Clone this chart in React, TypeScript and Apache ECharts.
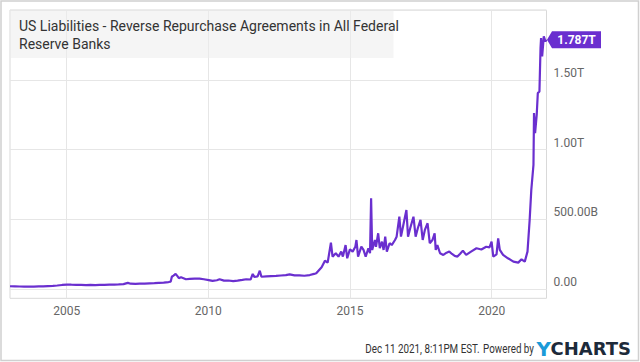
import React, { useEffect, useRef } from "react";
import * as echarts from "echarts";

const titleText = "US Liabilities - Reverse Repurchase Agreements in All Federal\nReserve Banks";
const footerStamp = "Dec 11 2021, 8:11PM EST.";
const footerPowered = "Powered by";
const yearTicks = ["2005-01-01", "2010-01-01", "2015-01-01", "2020-01-01"];
const xMin = "2003-01-01";
const xMax = "2021-12-08";
const yMax = 2000; // billions
const yStep = 500;

const dates = [
  "2003-01-01","2003-03-05","2003-05-07","2003-07-02","2003-09-03","2003-11-05",
  "2004-01-07","2004-03-03","2004-05-05","2004-07-07","2004-09-01","2004-11-03",
  "2005-01-05","2005-03-02","2005-05-04","2005-07-06","2005-09-07","2005-11-02",
  "2006-01-04","2006-03-01","2006-05-03","2006-07-05","2006-09-06","2006-11-01",
  "2007-01-03","2007-02-28","2007-04-04","2007-06-06","2007-08-01","2007-10-03","2007-12-05",
  "2008-02-06","2008-04-02","2008-06-04","2008-08-06","2008-09-03","2008-09-17","2008-10-08","2008-11-05","2008-11-26","2008-12-17",
  "2009-01-14","2009-03-18","2009-05-06","2009-07-08","2009-09-09","2009-11-04",
  "2010-01-06","2010-02-24","2010-04-21","2010-05-26","2010-07-21","2010-09-15","2010-11-17",
  "2011-01-12","2011-03-16","2011-05-04","2011-06-29","2011-07-27","2011-08-17","2011-09-28","2011-10-26","2011-11-16",
  "2012-01-18","2012-03-21","2012-05-23","2012-07-25","2012-09-26","2012-11-14",
  "2013-01-16","2013-03-20","2013-05-22","2013-07-31","2013-09-25","2013-10-23","2013-12-31",
  "2014-02-12","2014-03-19","2014-04-30","2014-05-21","2014-07-02","2014-08-06","2014-09-10","2014-10-01","2014-11-05","2014-11-26","2014-12-31",
  "2015-02-04","2015-03-11","2015-03-25","2015-04-15","2015-05-27","2015-06-24","2015-07-22","2015-08-26","2015-09-16","2015-09-30","2015-10-14","2015-11-18","2015-12-02","2015-12-30",
  "2016-01-20","2016-02-17","2016-03-09","2016-03-30","2016-04-20","2016-05-25","2016-06-22","2016-08-03","2016-08-24","2016-09-28","2016-10-19","2016-11-23","2016-12-28",
  "2017-01-18","2017-02-15","2017-03-29","2017-04-26","2017-05-24","2017-06-28","2017-07-26","2017-08-23","2017-09-27","2017-10-25","2017-11-29","2017-12-27",
  "2018-01-10","2018-01-31","2018-03-07","2018-04-18","2018-05-30","2018-07-04","2018-08-08","2018-09-12","2018-10-17","2018-11-21","2018-12-26",
  "2019-02-06","2019-04-10","2019-06-19","2019-08-21","2019-10-23","2019-12-04","2019-12-31",
  "2020-01-22","2020-03-04","2020-03-25","2020-04-15","2020-05-27","2020-07-29","2020-10-07","2020-12-09",
  "2021-01-20","2021-03-03","2021-04-07","2021-05-05","2021-05-26","2021-06-23","2021-06-30","2021-07-14","2021-08-04","2021-08-18","2021-09-08","2021-09-22","2021-09-29","2021-10-13","2021-11-03","2021-11-24","2021-12-08"
];

const valuesB = [
  22,21,20,19,20,19,
  21,21,23,24,27,31,
  34,33,32,31,30,31,
  30,31,32,33,34,35,
  37,46,40,39,40,41,43,
  44,46,48,52,55,90,98,110,96,80,
  86,72,74,76,77,72,
  66,60,65,72,62,63,59,
  62,67,72,70,110,88,92,133,90,
  93,95,96,99,101,107,
  100,100,97,102,110,115,158,
  205,191,334,234,258,234,270,234,317,222,287,
  270,305,353,234,305,282,234,294,258,652,282,353,305,401,
  294,341,282,377,270,330,317,353,377,520,377,473,568,
  377,437,520,377,437,497,353,425,473,330,353,401,
  282,317,258,246,262,270,253,239,234,255,277,
  246,270,294,285,305,300,341,
  234,250,365,282,246,222,198,191,
  215,198,270,497,712,891,1262,1118,1250,1405,1416,1727,1799,1667,1811,1775,1787
];

const lineColor = "#6a2fcf";
const gridColor = "#e6e6e6";
const labelColor = "#666666";
const fontFamily = "Roboto, 'Noto Sans', sans-serif";

function fmtY(v: number): string {
  if (v === 0) return "0.00";
  if (v >= 1000) return (v / 1000).toFixed(2) + "T";
  return v.toFixed(2) + "B";
}

const ts = (s: string) => +echarts.time.parse(s);

export default function App() {
  const ref = useRef<HTMLDivElement>(null);
  useEffect(() => {
    if (!ref.current) return;
    const chart = echarts.init(ref.current, undefined, { renderer: "svg" });
    const data = dates.map((d, i) => [ts(d), valuesB[i]]);
    const last = data[data.length - 1];
    const tickValues = yearTicks.map(ts);
    const xAxisBase = {
      type: "value", min: ts(xMin), max: ts(xMax), scale: true,
      axisLine: { show: false },
      axisTick: { show: false, customValues: tickValues },
      splitLine: { show: true, lineStyle: { color: gridColor, width: 1 } },
    };
    const option: any = {
      animation: false,
      backgroundColor: "#ffffff",
      textStyle: { fontFamily },
      grid: [
        { left: 10, right: 93.5, top: 10, bottom: 72.7, show: false },
        { left: 10, right: 93.5, top: 10, bottom: 63.7, show: true, borderColor: "#d9d9d9", borderWidth: 1, backgroundColor: "transparent" },
      ],
      xAxis: [
        { ...xAxisBase, gridIndex: 0, axisLabel: { show: false, customValues: tickValues } },
        {
          ...xAxisBase, gridIndex: 1,
          axisLabel: {
            customValues: tickValues,
            formatter: (v: number) => String(new Date(v).getFullYear()),
            color: labelColor, fontSize: 12, margin: 7, fontFamily,
          },
        },
      ],
      yAxis: [
        {
          gridIndex: 0, type: "value", position: "right", min: 0, max: yMax, interval: yStep,
          axisLine: { show: false }, axisTick: { show: false },
          axisLabel: {
            formatter: fmtY, color: labelColor, fontSize: 12, margin: 7,
            verticalAlign: "bottom", showMaxLabel: false, fontFamily, padding: [0, 0, 1, 0],
          },
          splitLine: { show: true, lineStyle: { color: gridColor, width: 1 } },
        },
        { gridIndex: 1, type: "value", show: false, splitLine: { show: false } },
      ],
      graphic: [
        {
          type: "rect", z: -1, silent: true,
          shape: { x: 1, y: 1, width: 637.5, height: 359.5 },
          style: { fill: "none", stroke: "#d0d0d0", lineWidth: 1.5 },
        },
        {
          type: "rect", silent: true, z: 5,
          shape: { x: 10.5, y: 10.5, width: 383, height: 47.5 },
          style: { fill: "rgba(236,236,236,0.55)" },
        },
        {
          type: "text", silent: true, z: 6, x: 19, y: 17,
          style: { text: titleText, fill: "#333333", fontSize: 14, lineHeight: 18, fontFamily },
        },
        {
          type: "text", silent: true, z: 6, x: 479.5, y: 349.5, scaleX: 0.82,
          style: { text: footerStamp, fill: "#333333", fontSize: 12, fontFamily, align: "right", verticalAlign: "middle" },
        },
        {
          type: "text", silent: true, z: 6, x: 534, y: 349.5, scaleX: 0.82,
          style: { text: footerPowered, fill: "#333333", fontSize: 12, fontFamily, align: "right", verticalAlign: "middle" },
        },
        {
          type: "text", silent: true, z: 6, x: 536.5, y: 348.5,
          style: { text: "Y", fill: "#1b9ad8", fontSize: 20, fontWeight: "bold", fontFamily: "'DejaVu Sans', sans-serif", align: "left", verticalAlign: "middle" },
        },
        {
          type: "text", silent: true, z: 6, x: 631, y: 348.5,
          style: { text: "CHARTS", fill: "#1d2a3a", fontSize: 18, fontWeight: "bold", fontFamily: "'DejaVu Sans', sans-serif", align: "right", verticalAlign: "middle" },
        },
      ],
      series: [
        {
          type: "line", xAxisIndex: 0, yAxisIndex: 0, data,
          showSymbol: false, symbol: "none",
          lineStyle: { color: lineColor, width: 2.2 },
          itemStyle: { color: lineColor },
          markPoint: {
            silent: true,
            symbol: "path://M0,8.5L5,0L54,0L54,17L5,17Z",
            symbolSize: [54, 17],
            symbolKeepAspect: false,
            symbolOffset: [27.5, 0],
            itemStyle: { color: lineColor },
            label: {
              show: true, color: "#ffffff", fontWeight: "bold", fontSize: 12, fontFamily,
              offset: [2.5, 0],
              formatter: (p: any) => (p.value / 1000).toFixed(3) + "T",
            },
            data: [{ coord: last, value: last[1] }],
          },
        },
      ],
    };
    chart.setOption(option);
    return () => chart.dispose();
  }, []);
  return (
    <div style={{ position: "fixed", left: 0, top: 0, width: 640, height: 362, background: "#fff" }}>
      <div ref={ref} style={{ width: 640, height: 362 }} />
    </div>
  );
}
